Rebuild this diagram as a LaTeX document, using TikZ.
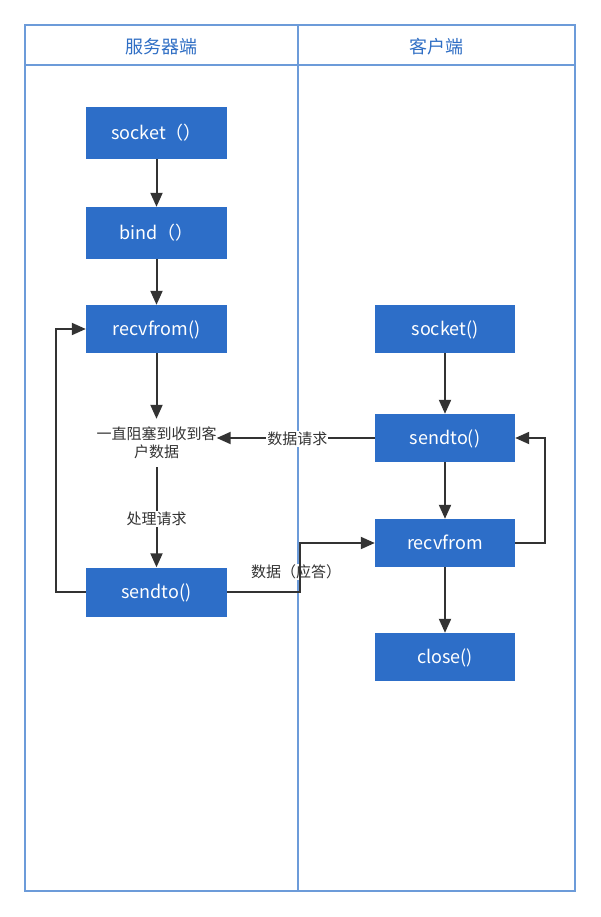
\documentclass[tikz,border=0pt]{standalone}
\usepackage{fontspec}
\setmainfont{Noto Sans CJK SC}
\usetikzlibrary{arrows.meta}
\definecolor{lane}{HTML}{6C9BD9}
\definecolor{head}{HTML}{2F6EC4}
\definecolor{boxc}{HTML}{2D6EC8}
\definecolor{ink}{HTML}{333333}
\tikzset{
  box/.style={fill=boxc, draw=none, minimum width=141pt, minimum height=50pt, inner sep=0pt, text=white, font=\fontsize{18}{20}\selectfont, text height=14pt, text depth=1pt},
  flow/.style={draw=ink, line width=2pt, -{Triangle[length=14pt,width=12pt]}},
  lbl/.style={fill=white, inner sep=1pt, text=ink, font=\fontsize{15}{17}\selectfont},
  lanebox/.style={draw=lane, line width=1.2pt},
  headtxt/.style={text=head, font=\fontsize{18}{20}\selectfont}
}
\begin{document}
\begin{tikzpicture}[x=1pt,y=-1pt]
\useasboundingbox (0,0) rectangle (600,917);
% lanes
\draw[lanebox] (25,25) rectangle (575,891);
\draw[lanebox] (25,65) -- (575,65);
\draw[lanebox] (298,25) -- (298,891);
\node[headtxt] (hs) at (161.5,47) {服务器端};
\node[headtxt] (hc) at (436.5,47) {客户端};
% server boxes
\node[box, minimum height=52pt] (ssock) at (156.5,133) {socket（）};
\node[box, minimum height=52pt] (sbind) at (156.5,233) {bind（）};
\node[box, minimum height=48pt] (srecv) at (156.5,329) {recvfrom()};
\node[text=ink, font=\fontsize{15}{18}\selectfont, align=center, inner sep=0pt, minimum height=48pt] (swait) at (156.5,443) {一直阻塞到收到客\\户数据};
\node[box, minimum height=49pt] (ssend) at (156.5,592) {sendto()};
% client boxes
\node[box, minimum width=140pt, minimum height=48pt] (csock) at (445,329) {socket()};
\node[box, minimum width=140pt, minimum height=48pt] (csend) at (445,438) {sendto()};
\node[box, minimum width=140pt, minimum height=48pt] (crecv) at (445,543) {recvfrom};
\node[box, minimum width=140pt, minimum height=48pt] (cclose) at (445,657) {close()};
\coordinate (sl) at (56,0);
\coordinate (cr) at (545,0);
\coordinate (mid) at (300,0);
% server arrows
\draw[flow] (ssock) -- (sbind);
\draw[flow] (sbind) -- (srecv);
\draw[flow] (srecv.south) -- (swait.north);
\draw[flow] (swait.south) -- node[lbl, yshift=-2pt] {处理请求} (ssend.north);
\draw[flow] (ssend.west) -- (sl |- ssend.west) -- (sl |- srecv.west) -- (srecv.west);
% client arrows
\draw[flow] (csock) -- (csend);
\draw[flow] (csend) -- (crecv);
\draw[flow] (crecv) -- (cclose);
\draw[flow] (crecv.east) -- (cr |- crecv.east) -- (cr |- csend.east) -- (csend.east);
% cross arrows
\draw[flow] (csend.west) -- node[lbl, pos=0.49, yshift=-1pt] {数据请求} (swait.east |- csend.west);
\node[lbl] (ans) at (296,572) {数据（应答）};
\draw[flow] (ssend.east) -- (mid |- ssend.east) -- (mid |- crecv.west) -- (crecv.west);
\end{tikzpicture}
\end{document}
